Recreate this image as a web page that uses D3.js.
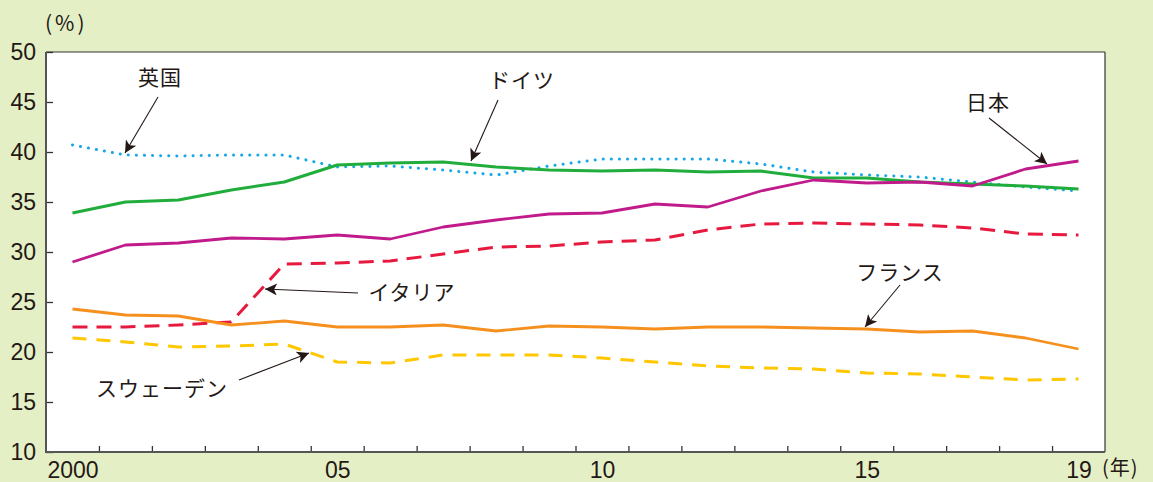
<!DOCTYPE html>
<html><head><meta charset="utf-8">
<script src="https://cdn.jsdelivr.net/npm/d3@7"></script>
<style>
html,body{margin:0;padding:0;background:#e5efc5;}
svg{display:block;}
text{font-family:"Liberation Sans",Arial,sans-serif;fill:#231815;}
.jp{font-family:"Noto Sans CJK JP",sans-serif;}
</style></head>
<body>
<svg id="c" width="1153" height="482"></svg>
<script>
const years = d3.range(2000, 2020);
const japan   = [29.0,30.7,30.9,31.4,31.3,31.7,31.3,32.5,33.2,33.8,33.9,34.8,34.5,36.1,37.2,36.9,37.0,36.6,38.3,39.1];
const germany = [33.9,35.0,35.2,36.2,37.0,38.7,38.9,39.0,38.5,38.2,38.1,38.2,38.0,38.1,37.4,37.4,37.0,36.8,36.6,36.3];
const uk      = [40.7,39.7,39.6,39.7,39.7,38.5,38.6,38.2,37.7,38.6,39.3,39.3,39.3,38.8,38.0,37.7,37.5,37.0,36.5,36.1];
const italy   = [22.5,22.5,22.7,23.0,28.8,28.9,29.1,29.8,30.5,30.6,31.0,31.2,32.2,32.8,32.9,32.8,32.7,32.4,31.8,31.7];
const france  = [24.3,23.7,23.6,22.7,23.1,22.5,22.5,22.7,22.1,22.6,22.5,22.3,22.5,22.5,22.4,22.3,22.0,22.1,21.4,20.3];
const sweden  = [21.4,21.0,20.5,20.6,20.8,19.0,18.9,19.7,19.7,19.7,19.4,19.0,18.6,18.4,18.3,17.9,17.8,17.5,17.2,17.3];
const seriesNames = ["英国","ドイツ","日本","イタリア","フランス","スウェーデン"];
const xTickLabels = [[2000,"2000"],[2005,"05"],[2010,"10"],[2015,"15"],[2019,"19"]];
const yTicks = [10,15,20,25,30,35,40,45,50];

const svg = d3.select("#c");
const L=46, R=1105, T=52, B=452;
const x = d3.scaleLinear().domain([1999.5, 2019.5]).range([L, R]);
const y = d3.scaleLinear().domain([10, 50]).range([B, T]);

svg.append("rect").attr("x",L).attr("y",T).attr("width",R-L).attr("height",B-T).attr("fill","#fff");

const gx = svg.append("g").attr("transform",`translate(0,${B})`)
  .call(d3.axisBottom(x).tickValues(d3.range(2000.5, 2019.5, 1)).tickSize(-6).tickFormat(""));
gx.select(".domain").remove();
gx.selectAll("line").attr("stroke","#333").attr("stroke-width",1.3);

const gxl = svg.append("g").attr("transform",`translate(0,${B})`)
  .call(d3.axisBottom(x).tickValues(xTickLabels.map(d=>d[0])).tickSize(0).tickPadding(10)
     .tickFormat(v => xTickLabels.find(d=>d[0]===v)[1]));
gxl.select(".domain").remove();
gxl.selectAll("text").attr("font-size",23).attr("font-family","Liberation Sans, Arial, sans-serif").attr("fill","#231815");

const gy = svg.append("g").attr("transform",`translate(${L},0)`)
  .call(d3.axisLeft(y).tickValues(yTicks).tickSizeInner(-7).tickSizeOuter(0).tickPadding(10));
gy.select(".domain").remove();
gy.selectAll("line").attr("stroke","#333").attr("stroke-width",1.3);
gy.selectAll("text").attr("font-size",23).attr("font-family","Liberation Sans, Arial, sans-serif").attr("fill","#231815");

svg.append("line").attr("x1",L).attr("x2",R).attr("y1",T).attr("y2",T).attr("stroke","#333").attr("stroke-width",1.2);
svg.append("line").attr("x1",R).attr("x2",R).attr("y1",T).attr("y2",B).attr("stroke","#333").attr("stroke-width",1.2);
svg.append("line").attr("x1",L).attr("x2",L).attr("y1",T).attr("y2",B+1).attr("stroke","#555").attr("stroke-width",2);
svg.append("line").attr("x1",L-1).attr("x2",R).attr("y1",B).attr("y2",B).attr("stroke","#555").attr("stroke-width",2);

const line = d3.line().x((d,i)=>x(years[i])).y(d=>y(d));
const series = [
  {v:uk, c:"#14a8e6", w:3, dash:"0.1 8", cap:"round"},
  {v:germany, c:"#21ad3c", w:3, dash:null},
  {v:japan, c:"#c11b8b", w:2.8, dash:null},
  {v:italy, c:"#e8193f", w:3, dash:"15 9"},
  {v:france, c:"#f5901e", w:2.8, dash:null},
  {v:sweden, c:"#ffc700", w:3, dash:"14 10"}
];
series.forEach(s=>{
  svg.append("path").datum(s.v).attr("d",line).attr("fill","none")
    .attr("stroke",s.c).attr("stroke-width",s.w)
    .attr("stroke-dasharray",s.dash).attr("stroke-linecap",s.cap||"butt").attr("stroke-linejoin","round");
});

const defs = svg.append("defs");
defs.append("marker").attr("id","ah").attr("viewBox","0 0 10 10").attr("refX",10).attr("refY",5)
  .attr("markerWidth",16).attr("markerHeight",12).attr("markerUnits","userSpaceOnUse").attr("orient","auto")
  .append("path").attr("d","M0,0 L10,5 L0,10 L2.5,5 Z").attr("fill","#231815");

const notes = [
  {t:seriesNames[0], tx:160, ty:85, x1:158, y1:97,  x2:125, y2:153},
  {t:seriesNames[1], tx:522, ty:88, x1:498, y1:100, x2:471, y2:161},
  {t:seriesNames[2], tx:988, ty:110,x1:989, y1:118, x2:1047,y2:164},
  {t:seriesNames[3], tx:412, ty:300,x1:358, y1:293, x2:265, y2:289},
  {t:seriesNames[4], tx:900, ty:280,x1:900, y1:285, x2:865, y2:327},
  {t:seriesNames[5], tx:162, ty:396,x1:239, y1:380, x2:309, y2:353}
];
notes.forEach(n=>{
  svg.append("line").attr("x1",n.x1).attr("y1",n.y1).attr("x2",n.x2).attr("y2",n.y2)
    .attr("stroke","#231815").attr("stroke-width",1.1).attr("marker-end","url(#ah)");
  svg.append("text").attr("class","jp").attr("x",n.tx).attr("y",n.ty).attr("text-anchor","middle")
    .attr("font-size",21).attr("letter-spacing",1).text(n.t);
});

svg.append("text").attr("class","jp").attr("x",45).attr("y",31).attr("font-size",21).attr("letter-spacing",3).text("(%)");
svg.append("text").attr("class","jp").attr("x",1102).attr("y",475).attr("font-size",20).attr("letter-spacing",1).text("(年)");
</script>
</body></html>
